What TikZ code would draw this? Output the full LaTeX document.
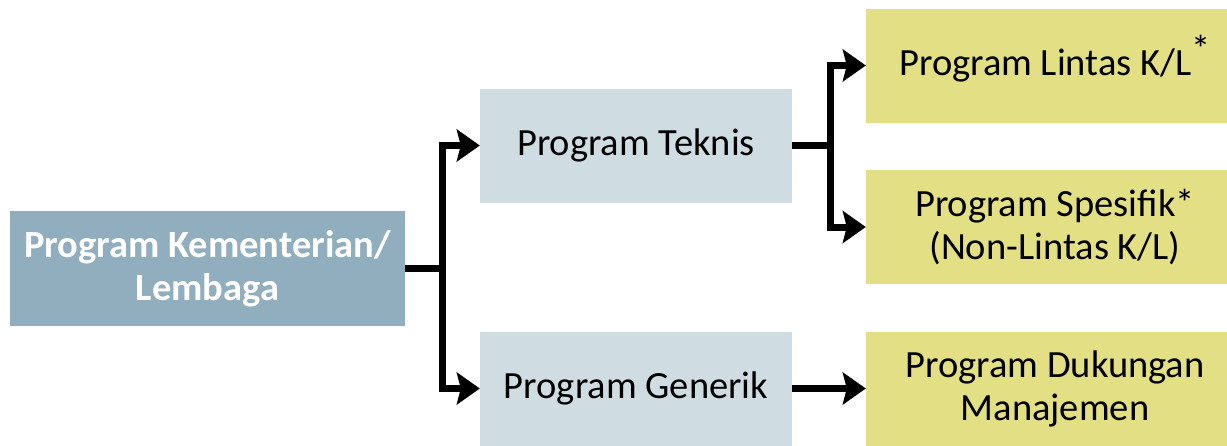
\documentclass[tikz,border=0pt]{standalone}
\usepackage{fontspec}
\setmainfont{Carlito}
\usepackage{tikz}
\usetikzlibrary{arrows.meta}
\usepackage{xcolor}
\definecolor{kementerian}{RGB}{145,174,190}
\definecolor{teknisblue}{RGB}{207,221,227}
\definecolor{lintasyellow}{RGB}{226,223,132}

\begin{document}
\begin{tikzpicture}[x = 1pt, y = -1pt]
				    \tikzstyle{box}=[draw=none,inner sep=0pt,align=center,font=\fontsize{38.5}{43}\selectfont]
				    \tikzstyle{top}=[box,fill=kementerian,text=white,font=\fontsize{38.5}{43}\selectfont\bfseries,minimum width=395pt,minimum height=115pt]
				    \tikzstyle{mid}=[box,fill=teknisblue,minimum width=312pt,minimum height=114pt]
				    \tikzstyle{leaf}=[box,fill=lintasyellow,minimum width=378pt,minimum height=114pt]
				    \tikzstyle{link}=[draw,line width = 7pt,black,-{Stealth[length=23pt,width=32pt,inset=4pt]}]
				    \useasboundingbox (0,0) rectangle (1227,445);
				    \node[top] (kl) at (207.5, 268.5) {Program Kementerian/\\Lembaga};
				    \node[mid] (teknis) at (636, 145.5) {Program Teknis};
				    \node[mid] (generik) at (636, 388.5) {Program Generik};
				    \node[leaf] (lintas) at (1055, 65.5) {Program Lintas K/L\raisebox{13pt}[0pt][0pt]{*}};
				    \node[leaf] (spesifik) at (1055, 227) {Program Spesifik*\\(Non-Lintas K/L)};
				    \node[leaf] (dukungan) at (1055, 388.5) {Program Dukungan\\Manajemen};
				    \draw[link] (kl.east) -- ++(37,0) |- (teknis.west);
				    \draw[link] (kl.east) -- ++(37,0) |- (generik.west);
				    \draw[link] (teknis.east) -- ++(38,0) |- (lintas.west);
				    \draw[link] (teknis.east) -- ++(38,0) |- (spesifik.west);
				    \draw[link] (generik.east) -- (dukungan.west);
				\end{tikzpicture}
\end{document}
